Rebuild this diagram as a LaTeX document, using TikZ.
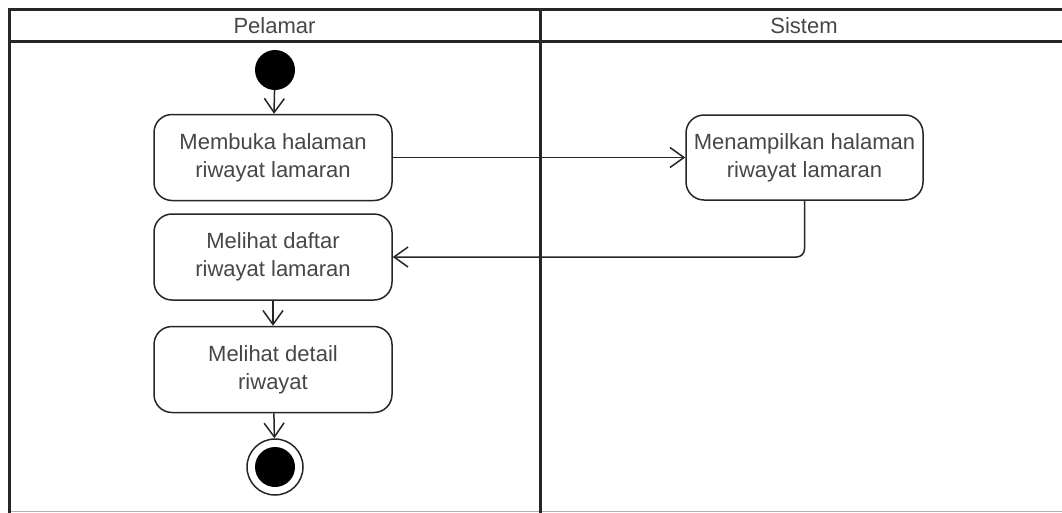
\documentclass[tikz,border=0pt]{standalone}
\usepackage{fontspec}
\setmainfont{Liberation Sans}
\usetikzlibrary{arrows.meta}
\begin{document}
\begin{tikzpicture}[x=1pt,y=-1pt,
		act/.style={draw=black!85,line width=1.5pt,rounded corners=18pt,minimum width=238pt,minimum height=86pt,inner sep=2pt,align=center,text=black!72,fill=white},
		flow/.style={draw=black!85,line width=1.5pt,-{Straight Barb[length=14pt,width=20pt,line width=1.5pt]}},
		lane/.style={draw=black!85,line width=3pt}]
		\tikzstyle{every node}+=[font=\fontsize{22}{28}\selectfont]
		\useasboundingbox (0,0) rectangle (1062,512);
		\draw [black!30,line width=1pt] (10,511.5) -- (1062,511.5);
		\draw [lane] (9,513) -- (9,9) -- (1068,9);
		\draw [lane] (9,41) -- (1068,41);
		\draw [lane] (540,9) -- (540,513);
		\node [text=black!72] (pelamar) at (274.5,26) {Pelamar};
		\node [text=black!72] (sistem) at (804,26) {Sistem};
		\node [circle,fill=black,minimum size=40pt,inner sep=0pt] (start) at (275,70) {};
		\node [act] (buka) at (273,157.5) {Membuka halaman\\riwayat lamaran};
		\node [act,minimum width=237pt,minimum height=85pt] (tampil) at (804.5,157.5) {Menampilkan halaman\\riwayat lamaran};
		\node [act] (daftar) at (273,257) {Melihat daftar\\riwayat lamaran};
		\node [act] (detail) at (273,369.5) {Melihat detail\\riwayat};
		\node [circle,draw=black!85,line width=1.5pt,minimum size=56pt,inner sep=0pt] (end) at (275,467) {};
		\node [circle,fill=black,minimum size=40pt,inner sep=0pt] (endin) at (end) {};
		\draw [flow] (start) -- (buka);
		\draw [flow] (buka) -- (tampil);
		\draw [flow,rounded corners=8pt] (tampil.south) |- (daftar.east);
		\draw [flow] (daftar) -- (detail);
		\draw [flow] (detail) -- (end);
\end{tikzpicture}
\end{document}
